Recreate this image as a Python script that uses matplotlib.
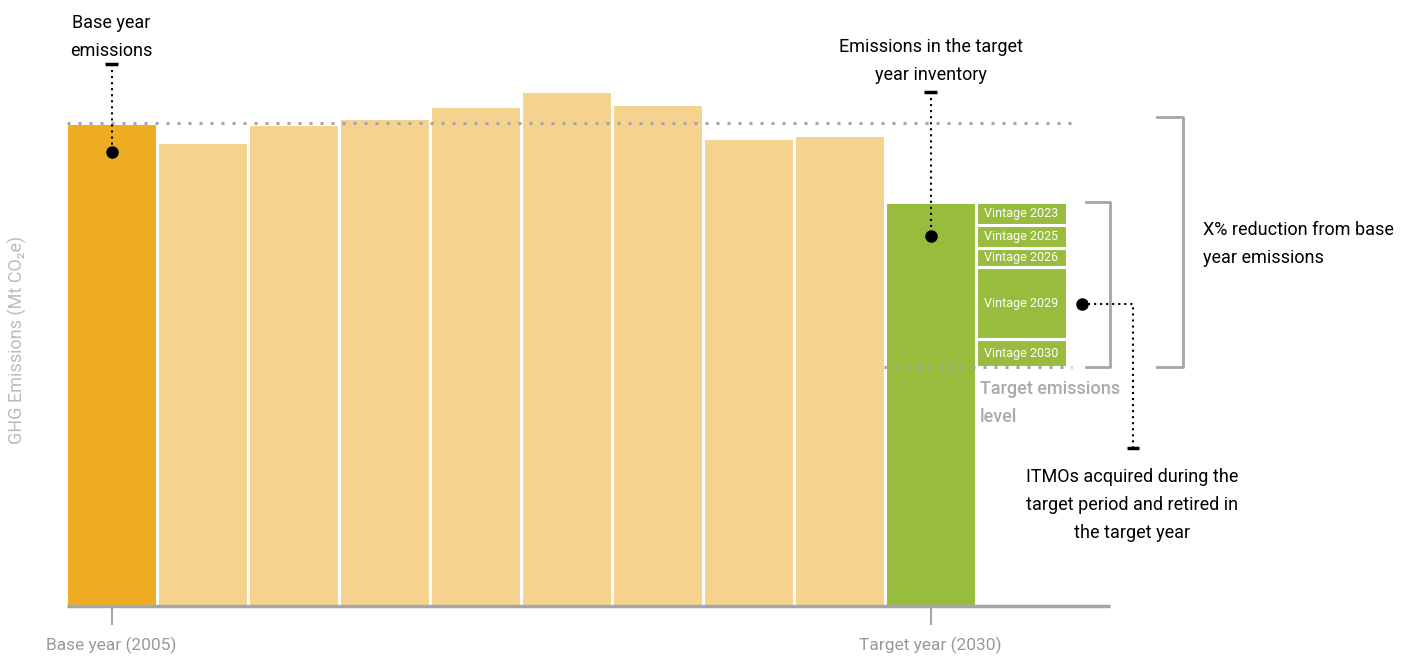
import matplotlib.pyplot as plt
import numpy as np

plt.rcParams['font.family'] = ['Roboto', 'DejaVu Sans']

# bar heights (arbitrary units)
emissions = [48.3, 46.4, 48.2, 48.8, 50.0, 51.5, 50.2, 46.8, 47.1, 40.4]
target_level = 23.9
vintages = ["Vintage 2030", "Vintage 2029", "Vintage 2026", "Vintage 2025", "Vintage 2023"]
vintage_sizes = [2.8, 7.2, 1.9, 2.3, 2.3]
xtick_labels = ["Base year (2005)", "Target year (2030)"]

c_base = "#EDAC22"
c_light = "#F6D28F"
c_green = "#98BC3E"
c_grey = "#A6A6A6"

fs = 13
ls_ = 1.7

fig = plt.figure(figsize=(14.08, 6.58), dpi=100)
ax = fig.add_axes([0, 0, 1, 1])
ax.set_xlim(-1.2253, 14.247)
ax.set_ylim(-5.2, 60.6)
ax.axis('off')

n = len(emissions)
x = np.arange(n)
colors = [c_base] + [c_light] * (n - 2) + [c_green]
ax.bar(x, emissions, width=1.0, color=colors, edgecolor='white', linewidth=2.2, zorder=2)

# stacked vintages on top of target level
bottom = target_level
for lab, h in zip(vintages, vintage_sizes):
    ax.bar(n, h, bottom=bottom, width=1.0, color=c_green, edgecolor='white', linewidth=2.2, zorder=2)
    ax.text(n, bottom + h / 2, lab, color='white', fontsize=9, ha='center', va='center', zorder=3)
    bottom += h

# reference lines
ax.plot([-0.49, 10.62], [emissions[0]] * 2, color=c_grey, lw=2.2, ls=(0, (1, 2.6)), zorder=3)
ax.plot([8.49, 10.55], [target_level] * 2, color=c_grey, lw=2.2, ls=(0, (1, 2.6)), zorder=3)

# baseline + ticks
ax.plot([-0.49, 10.973], [0, 0], color=c_grey, lw=2.5, zorder=4, solid_capstyle='butt')
for xi, lab in zip([0, n - 1], xtick_labels):
    ax.plot([xi, xi], [0, -1.8], color=c_grey, lw=1.5)
    ax.text(xi, -3.9, lab, color='#999999', fontsize=12.5, ha='center', va='center')

ax.text(-1.03, 26.6, "GHG Emissions (Mt CO₂e)", rotation=90, color='#BBBBBB',
        fontsize=13, ha='center', va='center')

dot = dict(color='black', lw=1.5, ls=(0, (1, 1.9)))

# base year callout
ax.plot([0, 0], [54.2, 45.4], **dot, zorder=5)
ax.plot([-0.07, 0.07], [54.2, 54.2], color='black', lw=2.5, solid_capstyle='butt')
ax.plot(0, 45.4, 'o', color='black', ms=8, zorder=6)
ax.text(0, 56.9, "Base year\nemissions", fontsize=fs, ha='center', va='center', linespacing=ls_)

# target year callout
ax.plot([n - 1, n - 1], [51.4, 37.0], **dot, zorder=5)
ax.plot([n - 1.07, n - 0.93], [51.4, 51.4], color='black', lw=2.5, solid_capstyle='butt')
ax.plot(n - 1, 37.0, 'o', color='black', ms=8, zorder=6)
ax.text(n - 1, 54.5, "Emissions in the target\nyear inventory", fontsize=fs, ha='center', va='center', linespacing=ls_)

# ITMO callout
ax.plot([10.665, 11.225, 11.225], [30.2, 30.2, 15.9], **dot, zorder=5)
ax.plot([11.16, 11.29], [15.8, 15.8], color='black', lw=2.5, solid_capstyle='butt')
ax.plot(10.665, 30.2, 'o', color='black', ms=8, zorder=6)
ax.text(11.215, 10.1, "ITMOs acquired during the\ntarget period and retired in\nthe target year",
        fontsize=fs, ha='center', va='center', linespacing=ls_)

# brackets
ax.plot([10.708, 10.973, 10.973, 10.708], [40.4, 40.4, 23.9, 23.9], color=c_grey, lw=2)
ax.plot([11.489, 11.775, 11.775, 11.489], [48.9, 48.9, 23.9, 23.9], color=c_grey, lw=2)
ax.text(11.995, 36.2, "X% reduction from base\nyear emissions", fontsize=fs, ha='left', va='center', linespacing=ls_)

ax.text(9.543, 20.3, "Target emissions\nlevel", fontsize=fs, color='#AAAAAA', ha='left', va='center',
        linespacing=ls_, fontweight='medium')

fig.savefig("out.png", dpi=100)
